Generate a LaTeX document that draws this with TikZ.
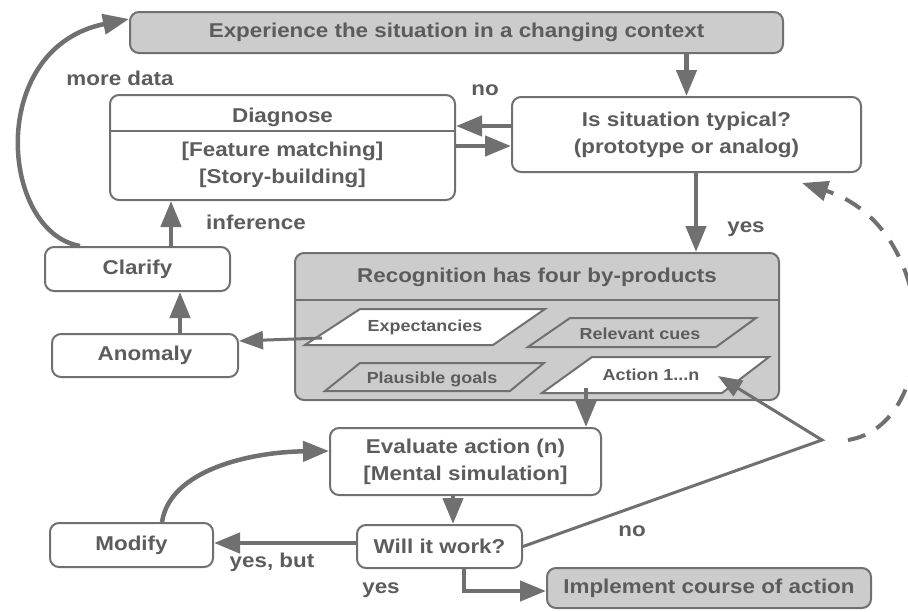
\documentclass[tikz,border=0pt]{standalone}
\usepackage{fontspec}
\setmainfont{Liberation Sans}[FakeStretch=1.12]
\usetikzlibrary{arrows.meta}
\definecolor{lc}{RGB}{112,112,112}
\definecolor{tc}{RGB}{92,92,92}
\definecolor{gf}{RGB}{204,204,204}
\newcommand{\fbig}{\fontsize{20}{27}\selectfont\bfseries}
\newcommand{\fsmall}{\fontsize{16}{19}\selectfont\bfseries}
\begin{document}
\begin{tikzpicture}[x=1pt,y=-1pt,
  box/.style={draw=lc, line width=2pt, rounded corners=9pt, fill=white, text=tc,
    font=\fbig, align=center, inner sep=0pt},
  graybox/.style={box, fill=gf},
  lab/.style={text=tc, font=\fbig, inner sep=0pt, align=center},
  slab/.style={text=tc, font=\fsmall, inner sep=0pt},
  pshape/.style={draw=lc, line width=2pt, line join=miter},
  divider/.style={draw=lc, line width=2pt},
  arr/.style={draw=lc, line width=4.5pt, -{Triangle[length=26pt,width=20pt]}},
  thinarr/.style={draw=lc, line width=3pt, -{Triangle[length=24pt,width=18pt]}},
  dasharr/.style={draw=lc, line width=4pt, dash pattern=on 18pt off 13pt,
    -{Triangle[length=26pt,width=20pt]}}]
\useasboundingbox (0,0) rectangle (908,611);

% boxes
\node[graybox, minimum width=653pt, minimum height=41pt] (exp) at (456.5,32.5)
  {Experience the situation in a changing context};
\node[box, minimum width=349pt, minimum height=75pt] (isit) at (686.5,134.5)
  {Is situation typical?\\(prototype or analog)};
\node[box, minimum width=345pt, minimum height=105pt] (diag) at (282.5,147.5) {};
\draw[divider] (diag.west |- 0,131) -- (diag.east |- 0,131);
\node[lab] (diagT) at (282.5,117) {Diagnose};
\node[lab] (diagB) at (282.5,165) {{[Feature matching]}\\{}{[Story-building]}};
\node[box, minimum width=185pt, minimum height=44pt] (clar) at (137.5,269) {Clarify};
\node[box, minimum width=186pt, minimum height=43pt] (anom) at (145,355.5) {Anomaly};

\node[graybox, minimum width=484pt, minimum height=147pt] (recog) at (537,326.5) {};
\draw[divider] (recog.west |- 0,300) -- (recog.east |- 0,300);
\node[lab] (recT) at (537,277) {Recognition has four by-products};

% parallelograms
\draw[pshape, fill=white] (305,345) -- (360,309) -- (545,309) -- (493,345) -- cycle;
\node[slab] (expc) at (425,327) {Expectancies};
\draw[pshape, fill=gf] (528,347) -- (570,318) -- (756,318) -- (716,347) -- cycle;
\node[slab] (cues) at (640,334) {Relevant cues};
\draw[pshape, fill=gf] (325,391) -- (360,363) -- (544,363) -- (510,391) -- cycle;
\node[slab] (goals) at (432,379) {Plausible goals};
\draw[pshape, fill=white] (542,393) -- (592,357) -- (769,357) -- (722,393) -- cycle;
\node[slab] (act) at (651,375) {Action 1...n};

\node[box, minimum width=271pt, minimum height=67pt] (eval) at (465.5,461.5)
  {Evaluate action (n)\\{}{[Mental simulation]}};
\node[box, minimum width=165pt, minimum height=43pt] (will) at (439.5,546.5) {Will it work?};
\node[box, minimum width=163pt, minimum height=44pt] (mod) at (131.5,545) {Modify};
\node[graybox, minimum width=324pt, minimum height=40pt] (impl) at (709,588)
  {Implement course of action};

% labels
\node[lab] (lmore) at (120,78) {more data};
\node[lab] (lno1) at (485,90) {no};
\node[lab] (linf) at (256,222) {inference};
\node[lab] (lyes1) at (746,229) {yes};
\node[lab] (lyb) at (272,562) {yes, but};
\node[lab] (lyes2) at (381,590) {yes};
\node[lab] (lno2) at (632,531) {no};

% connectors
\coordinate (moreS) at (80,246);
\draw[arr] (moreS) .. controls (0,232) and (-14,48) .. (exp.west |- 0,19);
\draw[arr] (exp.south -| isit) -- (isit.north);
\draw[arr] (isit.west |- 0,126) -- (diag.east |- 0,126);
\draw[arr] (diag.east |- 0,146) -- (isit.west |- 0,146);
\draw[arr] (isit.south -| 696,0) -- (recog.north -| 696,0);
\draw[arr] (clar.north -| 171,0) -- (diag.south -| 171,0);
\draw[arr] (anom.north -| 180,0) -- (clar.south -| 180,0);
\coordinate (expo) at (322,338);
\draw[thinarr] (expo) -- (anom.east |- 0,341);
\draw[arr] (586,388) -- (eval.north -| 586,0);
\draw[arr] (eval.south -| 453,0) -- (will.north -| 453,0);
\draw[arr] (will.west |- 0,543) -- (mod.east |- 0,543);
\draw[arr] (will.south -| 464,0) |- (impl.west |- 0,591);
\coordinate (modS) at (162,522);
\draw[arr] (modS) .. controls (170,470) and (250,452) .. (eval.west |- 0,451);
\coordinate (nv) at (822,440);
\coordinate (acttip) at (718,376);
\draw[thinarr] (will.east) -- (nv) -- (acttip);
\coordinate (dstart) at (848,440);
\coordinate (dend) at (802,183);
\draw[dasharr] (dstart) .. controls (942,425) and (942,228) .. (dend);
\end{tikzpicture}
\end{document}
